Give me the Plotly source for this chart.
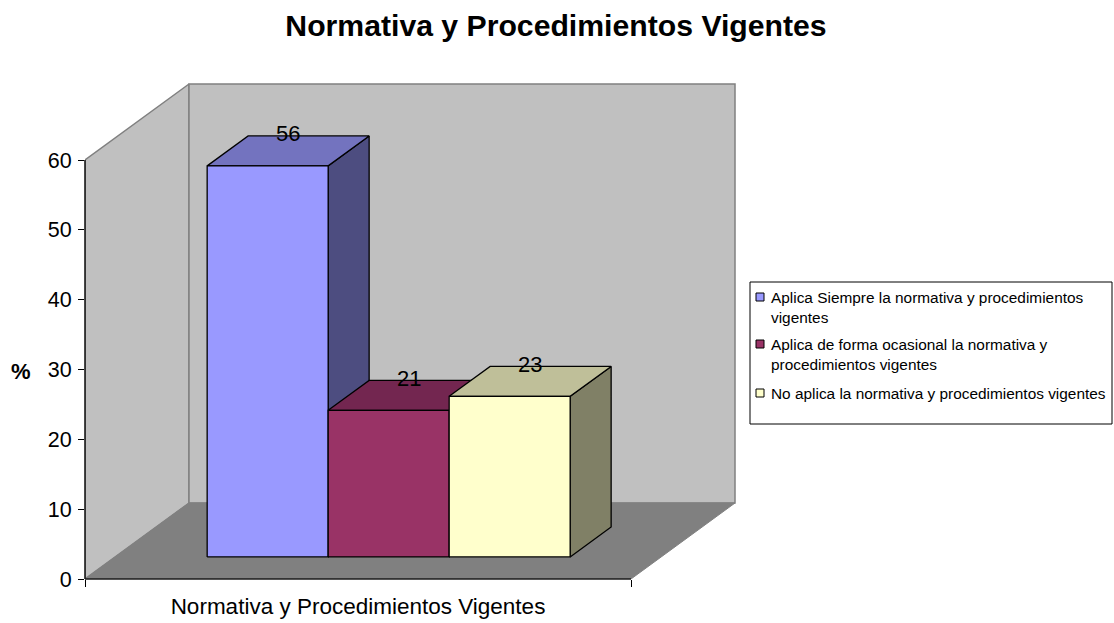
"""Normativa y Procedimientos Vigentes - columnas 3D estilo Excel"""
import plotly.graph_objects as go

TITLE = "Normativa y Procedimientos Vigentes"
CATEGORY = "Normativa y Procedimientos Vigentes"
SERIES = [
    "Aplica Siempre la normativa y procedimientos<br>vigentes",
    "Aplica de forma ocasional la normativa y<br>procedimientos vigentes",
    "No aplica la normativa y procedimientos vigentes",
]
VALUES = [56, 21, 23]
Y_TICKS = [0, 10, 20, 30, 40, 50, 60]

FRONT = ["#9999FF", "#993366", "#FFFFCC"]
TOP = ["#7373BF", "#732650", "#BFBF99"]
SIDE = ["#4D4D80", "#4D1A33", "#808066"]

# lienzo (px); el area de trazado sobra un poco para que no se recorten los bordes
W, H = 1114, 623
LEFT, RIGHT, TOP_PX, BOTTOM = 85, 741, 78, 579
FRONT_W = 546   # ancho del eje frontal
PX_PER_UNIT = 419 / 60
Y_RANGE = (BOTTOM - TOP_PX) / PX_PER_UNIT

# proyeccion oblicua: cuanto se desplaza el fondo, en unidades de los ejes
DEPTH_X = 104 / FRONT_W
DEPTH_Y = 76 / PX_PER_UNIT
BAR_W = 121 / FRONT_W
GAP = 92 / FRONT_W
D_FRONT, D_BACK = 0.29, 0.684
Y_MAX = 60


def project(x, y, d):
    return x + d * DEPTH_X, y + d * DEPTH_Y


def poly(points, fill, line_color="black", width=1.3):
    pts = [project(*p) for p in points]
    pts.append(pts[0])
    return go.Scatter(
        x=[p[0] for p in pts], y=[p[1] for p in pts],
        mode="lines", fill="toself", fillcolor=fill,
        line=dict(color=line_color, width=width),
        hoverinfo="skip", showlegend=False,
    )


def paper_x(px):
    return (px - LEFT) / (RIGHT - LEFT)


def paper_y(py):
    return (BOTTOM - py) / (BOTTOM - TOP_PX)


fig = go.Figure()

# paredes y suelo
fig.add_trace(poly([(0, 0, 0), (0, Y_MAX, 0), (0, Y_MAX, 1), (0, 0, 1)], "#C0C0C0", "#808080", 1.5))
fig.add_trace(poly([(0, 0, 1), (0, Y_MAX, 1), (1, Y_MAX, 1), (1, 0, 1)], "#C0C0C0", "#808080", 1.5))
fig.add_trace(poly([(0, 0, 0), (0, 0, 1), (1, 0, 1), (1, 0, 0)], "#808080", "#808080", 1))

# columnas
for i, v in enumerate(VALUES):
    x0 = GAP + i * BAR_W
    x1 = x0 + BAR_W
    fig.add_trace(poly([(x1, 0, D_FRONT), (x1, 0, D_BACK), (x1, v, D_BACK), (x1, v, D_FRONT)], SIDE[i]))
    fig.add_trace(poly([(x0, v, D_FRONT), (x0, v, D_BACK), (x1, v, D_BACK), (x1, v, D_FRONT)], TOP[i]))
    fig.add_trace(poly([(x0, 0, D_FRONT), (x0, v, D_FRONT), (x1, v, D_FRONT), (x1, 0, D_FRONT)], FRONT[i]))

# etiquetas de datos: centradas en x a media profundidad, en y sobre el borde trasero
d_mid = (D_FRONT + D_BACK) / 2
fig.add_trace(go.Scatter(
    x=[project(GAP + (i + 0.5) * BAR_W, v, d_mid)[0] for i, v in enumerate(VALUES)],
    y=[project(GAP + (i + 0.5) * BAR_W, v, D_BACK)[1] for i, v in enumerate(VALUES)],
    mode="text", text=[str(v) for v in VALUES], textposition="middle center",
    textfont=dict(size=22, color="black"),
    hoverinfo="skip", showlegend=False, cliponaxis=False,
))

# ejes: lineas en coordenadas de papel para que no se recorten
axis_line = dict(color="#1A1A1A", width=1.6)
shapes = [
    dict(type="line", xref="paper", yref="paper", x0=0, x1=0, y0=0, y1=Y_MAX / Y_RANGE, line=axis_line),
    dict(type="line", xref="paper", yref="paper", x0=0, x1=FRONT_W / (RIGHT - LEFT), y0=0, y1=0, line=axis_line),
]

# leyenda
shapes.append(dict(type="rect", xref="paper", yref="paper",
                   x0=paper_x(750), x1=paper_x(1112), y0=paper_y(424), y1=paper_y(282),
                   fillcolor="white", line=dict(color="black", width=1)))
annotations = []
LEGEND_Y = [(297, 307), (344, 354), (393, 393)]
for i, name in enumerate(SERIES):
    swatch_y, text_y = LEGEND_Y[i]
    shapes.append(dict(type="rect", xref="paper", yref="paper",
                       x0=paper_x(756), x1=paper_x(764), y0=paper_y(swatch_y + 4), y1=paper_y(swatch_y - 4),
                       fillcolor=FRONT[i], line=dict(color="black", width=1)))
    annotations.append(dict(text=name, xref="paper", yref="paper", x=paper_x(769), y=paper_y(text_y),
                            xanchor="left", yanchor="middle", align="left", showarrow=False,
                            font=dict(size=15.4, color="black")))

annotations.append(dict(text="<b>%</b>", xref="paper", yref="paper", x=paper_x(21), y=paper_y(371),
                        xanchor="center", yanchor="middle", showarrow=False, font=dict(size=22, color="black")))

fig.update_layout(
    width=W, height=H,
    margin=dict(l=LEFT, r=W - RIGHT, t=TOP_PX, b=H - BOTTOM),
    paper_bgcolor="white", plot_bgcolor="white",
    font=dict(family="Liberation Sans, Arial, sans-serif", color="black"),
    title=dict(text=f"<b>{TITLE}</b>", x=556 / W, xanchor="center", y=1 - 25 / H, yanchor="middle",
               font=dict(size=30.2, color="black")),
    xaxis=dict(range=[0, (RIGHT - LEFT) / FRONT_W], showgrid=False, zeroline=False, showline=False,
               automargin=False,
               tickvals=[0.5], ticktext=[CATEGORY], ticks="", tickfont=dict(size=22.5), ticklabelstandoff=11,
               minor=dict(tickvals=[0, 1], ticks="outside", ticklen=7, tickcolor="black", showgrid=False)),
    yaxis=dict(range=[0, Y_RANGE], showgrid=False, zeroline=False, showline=False,
               automargin=False,
               tickvals=Y_TICKS, ticks="outside", ticklen=6, tickcolor="black", tickfont=dict(size=21.5),
               ticklabelstandoff=2),
    shapes=shapes, annotations=annotations,
)

fig.write_html("out.html", config={"displayModeBar": False},
               post_script="document.body.style.margin='0';")
